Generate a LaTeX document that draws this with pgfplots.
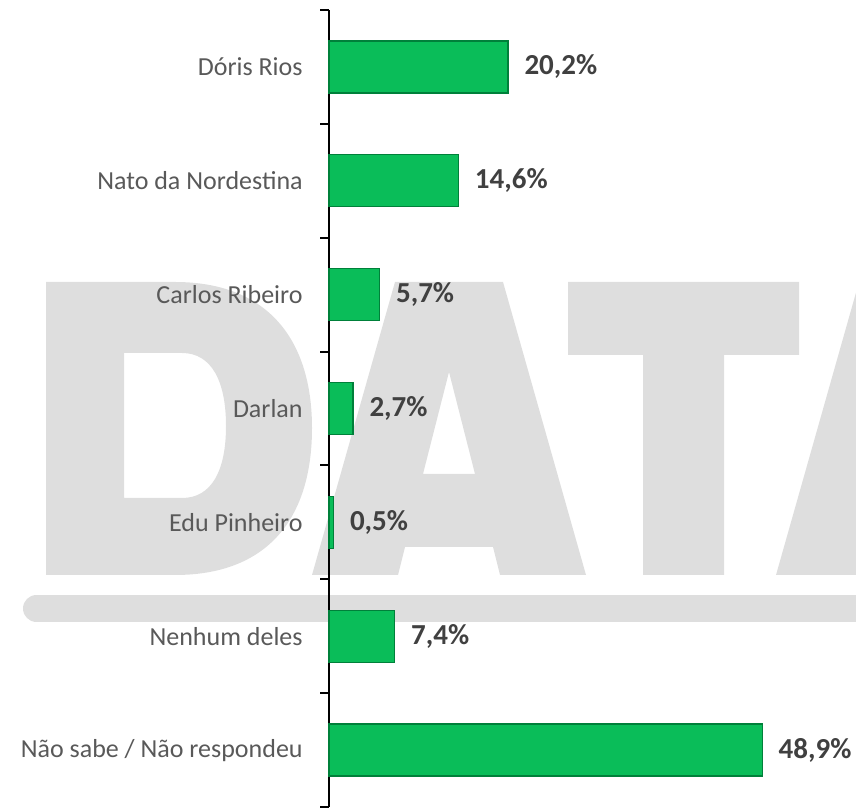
\documentclass[border=0pt]{standalone}
\usepackage{pgfplots}
\pgfplotsset{compat=1.18}
\usepackage{fontspec}
\setmainfont{Carlito}

\definecolor{wm}{RGB}{222,222,222}
\definecolor{barfill}{RGB}{10,189,89}
\definecolor{baredge}{RGB}{0,128,58}
\definecolor{labgray}{RGB}{89,89,89}
\definecolor{valgray}{RGB}{64,64,64}

\begin{document}
\begin{tikzpicture}
% watermark "DATA" behind the chart (pixel coordinates, y downwards)
\begin{scope}[x=0.5pt,y=-0.5pt,shift={(0pt,404pt)}]
  \clip (0,0) rectangle (856,808);
  % D
  \fill[wm,even odd rule]
    (46,282) -- (175,282) .. controls (268,282) and (312,340) .. (312,428)
    .. controls (312,518) and (268,575) .. (175,575) -- (46,575) -- cycle
    (124,353) -- (182,353) .. controls (212,353) and (226,382) .. (226,426)
    .. controls (226,470) and (212,498) .. (182,498) -- (124,498) -- cycle;
  % A
  \fill[wm,even odd rule]
    (312,575) -- (395,282) -- (503,282) -- (586,575) -- (500,575) -- (493,547)
    -- (405,547) -- (398,575) -- cycle
    (449,372) -- (475,474) -- (423,474) -- cycle;
  % T
  \fill[wm] (568,282) -- (799,282) -- (799,355) -- (724,355) -- (724,575)
    -- (643,575) -- (643,355) -- (568,355) -- cycle;
  % second A
  \fill[wm,even odd rule]
    (776,575) -- (859,282) -- (967,282) -- (1050,575) -- (964,575) -- (957,547)
    -- (869,547) -- (862,575) -- cycle
    (913,372) -- (939,474) -- (887,474) -- cycle;
  % rounded bar under the letters
  \draw[wm, line width=13.5pt, line cap=round] (36.5,608.5) -- (920,608.5);
\end{scope}

\begin{axis}[
    at={(164.5pt,0.5pt)}, anchor=south west,
    scale only axis,
    width=263.5pt, height=398.5pt,
    xbar, bar width=26pt,
    xmin=0, xmax=59.5,
    ymin=-0.5, ymax=6.5,
    y dir=reverse,
    hide x axis,
    axis y line=left,
    y axis line style={-, line width=1pt, black},
    ytick={0,...,6},
    yticklabels={Dóris Rios, Nato da Nordestina, Carlos Ribeiro, Darlan,
      Edu Pinheiro, Nenhum deles, Não sabe / Não respondeu},
    major tick length=0pt,
    minor ytick={-0.5,0.5,1.5,2.5,3.5,4.5,5.5,6.5},
    minor tick length=4.5pt,
    ytick align=outside,
    ytick pos=left,
    minor tick style={black, line width=1pt},
    yticklabel style={font=\fontsize{13}{15}\selectfont, text=labgray,
      anchor=east, inner sep=0pt, xshift=-13pt},
    clip=false,
    /pgf/number format/assume math mode=true,
    /pgf/number format/.cd, fixed, fixed zerofill, precision=1, use comma,
    /pgfplots/.cd,
    nodes near coords={\pgfmathprintnumber{\pgfplotspointmeta}\%},
    every node near coord/.append style={font=\fontsize{14.5}{17}\selectfont\bfseries,
      text=valgray, anchor=west, inner sep=0pt, xshift=8pt},
  ]
  \addplot[fill=barfill, draw=baredge, line width=0.6pt] coordinates {
    (20.2,0) (14.6,1) (5.7,2) (2.7,3) (0.5,4) (7.4,5) (48.9,6)
  };
\end{axis}
\pgfresetboundingbox
\useasboundingbox (0,0) rectangle (428pt,404pt);
\end{tikzpicture}
\end{document}
